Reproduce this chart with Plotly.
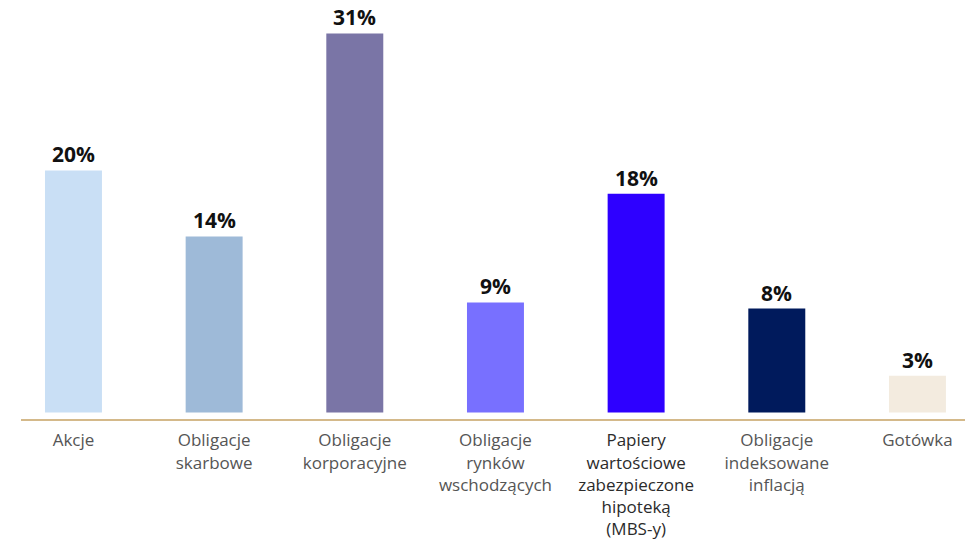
import plotly.graph_objects as go

categories = ["Akcje", "Obligacje<br>skarbowe", "Obligacje<br>korporacyjne",
              "Obligacje<br>rynków<br>wschodzących",
              "Papiery<br>wartościowe<br>zabezpieczone<br>hipoteką<br>(MBS-y)",
              "Obligacje<br>indeksowane<br>inflacją", "Gotówka"]
values = [19.8, 14.4, 31.0, 9.0, 17.9, 8.5, 3.0]
value_labels = ["20%", "14%", "31%", "9%", "18%", "8%", "3%"]
bar_colors = ["#C9DFF5", "#9EBAD8", "#7A75A6", "#7870FF", "#2E00FF", "#001A5C", "#F3EBDF"]
label_colors = ["#555555", "#555555", "#555555", "#555555", "#2b2b2b", "#555555", "#555555"]

x = list(range(len(categories)))
ticktext = [f"<span style='color:{c}'>{t}</span>" for t, c in zip(categories, label_colors)]

fig = go.Figure(go.Bar(
    x=x, y=values, marker=dict(color=bar_colors, line=dict(width=0)),
    width=0.405, hoverinfo="skip"))

for xi, v, lab in zip(x, values, value_labels):
    fig.add_annotation(x=xi, y=v, text=f"<b>{lab}</b>", showarrow=False,
                       yanchor="bottom", yshift=0,
                       font=dict(family="Open Sans, Lato, sans-serif", size=21, color="#111111"))

fig.update_layout(
    width=976, height=541,
    margin=dict(l=21, r=11, t=10, b=122),
    paper_bgcolor="white", plot_bgcolor="white",
    showlegend=False,
    font=dict(family="Open Sans, Lato, sans-serif", size=17, color="#555555"),
    xaxis=dict(range=[-0.373, 6.338], tickmode="array", tickvals=x, ticktext=ticktext,
               showgrid=False, zeroline=False, showline=True, linecolor="#D4B98A",
               linewidth=2, ticks="", ticklabelstandoff=5, automargin=False,
               tickfont=dict(size=17, color="#555555")),
    yaxis=dict(range=[-0.53, 32.92], visible=False, showgrid=False, zeroline=False,
               automargin=False),
)

fig.write_html("out.html", config={"displayModeBar": False},
               post_script="document.body.style.margin='0';")
